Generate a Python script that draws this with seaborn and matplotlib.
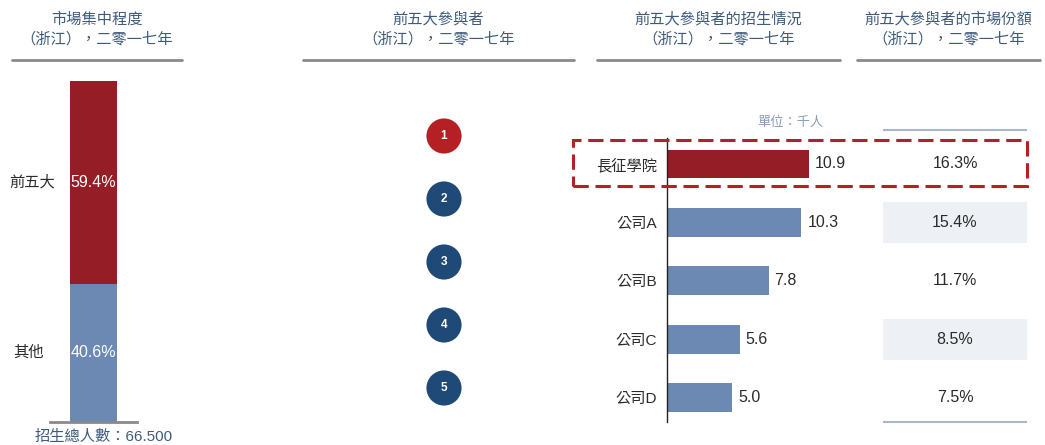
import matplotlib
matplotlib.use("Agg")
import matplotlib.pyplot as plt
from matplotlib.patches import Rectangle
import pandas as pd
import seaborn as sns

# chart data
share_labels = ["前五大", "其他"]
share_values = [59.4, 40.6]
total_note = "招生總人數：66.500"

ranks = [1, 2, 3, 4, 5]
players = ["長征學院", "公司A", "公司B", "公司C", "公司D"]
enrolment = [10.9, 10.3, 7.8, 5.6, 5.0]
market_share = ["16.3%", "15.4%", "11.7%", "8.5%", "7.5%"]

headers = [
    "市場集中程度\n（浙江），二零一七年",
    "前五大參與者\n（浙江），二零一七年",
    "前五大參與者的招生情況\n（浙江），二零一七年",
    "前五大參與者的市場份額\n（浙江），二零一七年",
]
unit_note = "單位：千人"

RED = "#951d25"
BLUE = "#6c89b4"
NAVY = "#1f4a78"
CIRCLE_RED = "#b52025"
HEAD = "#3f5b7b"
TXT = "#2b2b2b"
NUM_SIZE = 11.5

sns.set_style("white")
plt.rcParams["font.family"] = ["Liberation Sans", "Noto Sans CJK TC", "DejaVu Sans"]

W, H = 1045, 445
fig = plt.figure(figsize=(W / 100, H / 100), dpi=100)


def px_axes(x0, y0, x1, y1):
    # axes placed by pixel box (top-left origin)
    return fig.add_axes([x0 / W, 1 - y1 / H, (x1 - x0) / W, (y1 - y0) / H])


def fx(x):
    return x / W


def fy(y):
    return 1 - y / H


# headers and their rules
head_pos = [(12, 182), (303, 574), (597, 840), (857, 1040)]
for text, (a, b) in zip(headers, head_pos):
    fig.text(fx((a + b) / 2), fy(29), text, ha="center", va="center",
             fontsize=11, color=HEAD, linespacing=1.45)
    fig.add_artist(plt.Line2D([fx(a), fx(b)], [fy(60), fy(60)],
                              color="#8a8a8a", lw=2))

# panel 1: stacked bar
ax1 = px_axes(50, 81, 137, 422)
cum_top = share_values[0] + share_values[1]
d_tot = pd.DataFrame({"g": ["x"], "v": [cum_top]})
d_oth = pd.DataFrame({"g": ["x"], "v": [share_values[1]]})
sns.barplot(data=d_tot, x="g", y="v", color=RED, width=0.55, ax=ax1,
            saturation=1, linewidth=0)
sns.barplot(data=d_oth, x="g", y="v", color=BLUE, width=0.55, ax=ax1,
            saturation=1, linewidth=0)
ax1.set_ylim(0, cum_top)
ax1.set_xlim(-0.5, 0.5)
ax1.set_xlabel("")
ax1.set_ylabel("")
ax1.set_xticks([])
ax1.set_yticks([])
mids = [share_values[1] + share_values[0] / 2, share_values[1] / 2]
lab_x = [55, 44]
for m, v, lab, lx in zip(mids, share_values, share_labels, lab_x):
    ax1.text(0, m, f"{v}%", ha="center", va="center", color="white",
             fontsize=NUM_SIZE)
    ypx = 422 - m / cum_top * (422 - 81)
    fig.text(fx(lx), fy(ypx), lab, ha="right", va="center", fontsize=11,
             color=TXT)
for s in ["top", "right", "left"]:
    ax1.spines[s].set_visible(False)
ax1.spines["bottom"].set_color("#8a8a8a")
ax1.spines["bottom"].set_linewidth(2)
fig.text(fx(104), fy(437), total_note, ha="center", va="center",
         fontsize=11, color=HEAD)

# panel 2: rank circles
ax2 = px_axes(399, 104.5, 489, 419.5)
d_rank = pd.DataFrame({"x": [0] * len(ranks), "rank": ranks,
                       "top": ["y"] + ["n"] * (len(ranks) - 1)})
sns.scatterplot(data=d_rank, x="x", y="rank", hue="top",
                palette={"y": CIRCLE_RED, "n": NAVY}, s=640, linewidth=0,
                legend=False, ax=ax2)
for r in ranks:
    ax2.text(0, r, str(r), ha="center", va="center", color="white",
             fontsize=8.5, fontweight="bold")
ax2.set_xlim(-1, 1)
ax2.set_ylim(5.5, 0.5)
ax2.axis("off")

# panel 3: horizontal bars
STEP = 58.4
Y0 = 164
ylo, yhi = -0.75, 4.6
bar_top = Y0 + ylo * STEP
bar_bot = Y0 + yhi * STEP
scale = 13.1  # px per thousand
ax3 = px_axes(666.5, bar_top, 666.5 + 200, bar_bot)
d_bar = pd.DataFrame({"name": players, "val": enrolment})
sns.barplot(data=d_bar, y="name", x="val", hue="name",
            palette=[RED] + [BLUE] * (len(players) - 1), legend=False,
            width=0.49, saturation=1, linewidth=0, ax=ax3)
ax3.set_xlim(0, 200 / scale)
ax3.set_ylim(yhi, ylo)
ax3.set_xlabel("")
ax3.set_ylabel("")
ax3.set_xticks([])
ax3.set_yticks(range(len(players)))
ax3.set_yticklabels(players, fontsize=11, color=TXT)
ax3.tick_params(axis="y", length=0, pad=7)
for i, v in enumerate(enrolment):
    ax3.text(v + 0.45, i, f"{v}", ha="left", va="center", fontsize=NUM_SIZE,
             color=TXT)
for s in ["top", "right", "bottom"]:
    ax3.spines[s].set_visible(False)
ax3.spines["left"].set_color("#222222")
ax3.spines["left"].set_linewidth(1)
ax3.spines["left"].set_bounds((422 - Y0) / STEP, (138 - Y0) / STEP)
fig.text(fx(790), fy(123), unit_note, ha="center", va="center",
         fontsize=9.5, color="#8b9cb6", style="italic")

# panel 4: market share table
ax4 = px_axes(883, bar_top, 1027, bar_bot)
ax4.set_xlim(0, 1)
ax4.set_ylim(yhi, ylo)
for i, t in enumerate(market_share):
    if i % 2 == 1:
        ax4.axhspan(i - 0.35, i + 0.35, color="#edf0f5", lw=0)
    ax4.text(0.5, i, t, ha="center", va="center", fontsize=NUM_SIZE, color=TXT)
ax4.axhline((130 - Y0) / STEP, color="#a9b7ca", lw=1.5)
ax4.axhline((422 - Y0) / STEP, color="#a9b7ca", lw=1.5)
ax4.axis("off")

# dashed highlight around the leader
fig.add_artist(Rectangle((fx(573), fy(186)), fx(1027 - 573), (186 - 140) / H,
                         transform=fig.transFigure, fill=False,
                         edgecolor=CIRCLE_RED, lw=2.2,
                         linestyle=(0, (5, 2.2))))

fig.savefig("out.png", dpi=100)
